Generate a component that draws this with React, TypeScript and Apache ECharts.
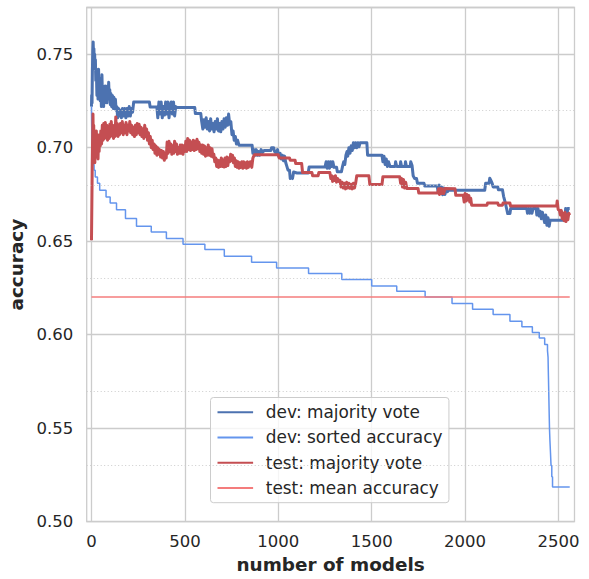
import React, { useEffect, useRef } from "react";
import * as echarts from "echarts";

// ---------- data ----------
const xTickValues = [0, 500, 1000, 1500, 2000, 2500];
const yMinorGrid = [0.525, 0.575, 0.625, 0.675, 0.725];
const nModels = 2560;
const meanAccuracy = 0.6202;

// dev: majority vote  [number of models, accuracy]
const devVote: [number, number][] = [
  [0, 0.722], [1, 0.728], [3, 0.724], [5, 0.742], [7, 0.752], [9, 0.7566], [11, 0.749], [13, 0.753],
  [15, 0.744], [17, 0.75], [19, 0.742], [21, 0.747], [23, 0.736], [26, 0.742], [29, 0.728], [32, 0.738],
  [35, 0.726], [38, 0.742], [41, 0.729], [44, 0.737], [47, 0.725], [50, 0.733], [53, 0.722], [56, 0.739],
  [59, 0.726], [62, 0.733], [65, 0.722], [68, 0.731], [71, 0.724], [74, 0.733], [77, 0.725], [80, 0.731],
  [83, 0.724], [86, 0.733], [89, 0.726], [92, 0.735], [95, 0.727], [98, 0.731], [101, 0.723], [104, 0.729],
  [108, 0.722], [112, 0.728], [116, 0.721], [120, 0.727], [124, 0.721], [128, 0.726], [132, 0.72], [136, 0.722],
  [140, 0.716], [145, 0.721], [150, 0.717], [155, 0.72], [160, 0.716], [166, 0.721], [172, 0.717], [178, 0.721],
  [184, 0.716], [190, 0.721], [196, 0.717], [202, 0.722], [208, 0.717], [214, 0.721], [220, 0.719], [226, 0.7245],
  [310, 0.7245], [314, 0.7218], [350, 0.7218], [355, 0.716], [361, 0.7245], [367, 0.718], [373, 0.7245], [379, 0.716],
  [385, 0.722], [391, 0.7175], [397, 0.7245], [403, 0.718], [409, 0.7245], [415, 0.716], [421, 0.722], [427, 0.7245],
  [433, 0.718], [439, 0.7245], [445, 0.717], [451, 0.722], [458, 0.7215], [553, 0.7215], [556, 0.7183], [585, 0.7183],
  [590, 0.714], [596, 0.71], [602, 0.715], [608, 0.711], [614, 0.716], [620, 0.71], [626, 0.714], [632, 0.709],
  [638, 0.7155], [644, 0.71], [650, 0.713], [656, 0.7085], [662, 0.714], [668, 0.71], [674, 0.7155], [680, 0.709],
  [686, 0.713], [692, 0.7085], [698, 0.714], [704, 0.71], [710, 0.7155], [716, 0.711], [722, 0.716], [728, 0.712],
  [734, 0.718], [740, 0.7125], [746, 0.714], [752, 0.707], [758, 0.709], [764, 0.704], [770, 0.706], [776, 0.702],
  [782, 0.704], [790, 0.7013], [860, 0.7013], [864, 0.697], [870, 0.699], [876, 0.696], [882, 0.699], [888, 0.696],
  [894, 0.698], [900, 0.696], [908, 0.699], [916, 0.6975], [924, 0.6985], [960, 0.6985], [964, 0.7], [975, 0.7],
  [980, 0.698], [990, 0.697], [996, 0.699], [1002, 0.6955], [1010, 0.697], [1016, 0.694], [1022, 0.696], [1028, 0.693],
  [1034, 0.6955], [1040, 0.692], [1046, 0.69], [1052, 0.688], [1060, 0.688], [1064, 0.6835], [1070, 0.6845], [1076, 0.6835],
  [1082, 0.687], [1100, 0.6865], [1160, 0.6865], [1165, 0.6897], [1250, 0.6897], [1256, 0.6925], [1262, 0.689], [1268, 0.6925],
  [1274, 0.689], [1280, 0.6925], [1286, 0.69], [1292, 0.6925], [1298, 0.6895], [1312, 0.6895], [1316, 0.6872], [1338, 0.6872],
  [1344, 0.69], [1350, 0.6925], [1356, 0.691], [1362, 0.696], [1368, 0.698], [1372, 0.6955], [1378, 0.7], [1384, 0.697],
  [1390, 0.701], [1396, 0.6985], [1402, 0.7027], [1408, 0.7], [1414, 0.7027], [1420, 0.7], [1426, 0.7027], [1432, 0.7005],
  [1438, 0.7027], [1474, 0.7027], [1478, 0.696], [1555, 0.696], [1560, 0.6925], [1566, 0.6955], [1572, 0.691], [1578, 0.694],
  [1584, 0.69], [1590, 0.6925], [1598, 0.69], [1625, 0.69], [1628, 0.6925], [1634, 0.69], [1652, 0.69], [1655, 0.6925],
  [1660, 0.69], [1678, 0.69], [1681, 0.6925], [1686, 0.69], [1706, 0.69], [1709, 0.6925], [1716, 0.6905], [1722, 0.685],
  [1730, 0.6835], [1740, 0.6835], [1745, 0.681], [1780, 0.681], [1784, 0.6795], [1850, 0.6795], [1856, 0.6765], [1862, 0.68],
  [1868, 0.6755], [1874, 0.679], [1880, 0.6748], [1886, 0.6785], [1892, 0.675], [1898, 0.678], [1906, 0.6765], [1912, 0.6773],
  [2105, 0.6773], [2110, 0.681], [2128, 0.681], [2132, 0.6837], [2138, 0.6825], [2145, 0.681], [2150, 0.679], [2175, 0.679],
  [2178, 0.6775], [2200, 0.6775], [2206, 0.674], [2214, 0.671], [2222, 0.6675], [2228, 0.6648], [2240, 0.6648], [2244, 0.6675],
  [2330, 0.6675], [2334, 0.665], [2340, 0.6675], [2346, 0.665], [2352, 0.6675], [2358, 0.665], [2364, 0.6675], [2380, 0.6675],
  [2384, 0.664], [2390, 0.6675], [2396, 0.6635], [2402, 0.666], [2408, 0.662], [2414, 0.6655], [2420, 0.6625], [2426, 0.66],
  [2432, 0.664], [2438, 0.6585], [2444, 0.6625], [2450, 0.658], [2455, 0.6612], [2535, 0.6612], [2538, 0.6675], [2545, 0.664],
  [2550, 0.6675], [2560, 0.6675],
];

// dev: sorted accuracy (value holds from x until next x)
const devSorted: [number, number][] = [
  [0, 0.722], [2, 0.705], [5, 0.696], [9, 0.691], [14, 0.688], [20, 0.6844], [32, 0.681], [44, 0.6773],
  [78, 0.6737], [100, 0.6705], [134, 0.6668], [182, 0.6622], [241, 0.658], [320, 0.655], [401, 0.6514], [490, 0.6484],
  [607, 0.6456], [711, 0.642], [857, 0.6388], [991, 0.6357], [1162, 0.6327], [1340, 0.6295], [1500, 0.6261], [1634, 0.6232],
  [1786, 0.6202], [1930, 0.6167], [2040, 0.6136], [2150, 0.6108], [2240, 0.6072], [2304, 0.6043], [2360, 0.6012], [2397, 0.5982],
  [2426, 0.5948], [2441, 0.5915], [2444, 0.588], [2446, 0.578], [2448, 0.568], [2450, 0.558], [2452, 0.549], [2454, 0.5436],
  [2457, 0.537], [2460, 0.53], [2464, 0.524], [2468, 0.5186], [2560, 0.5186],
];

// test: majority vote
const testVote: [number, number][] = [
  [0, 0.6505], [2, 0.67], [4, 0.69], [6, 0.705], [8, 0.718], [10, 0.7], [12, 0.712], [14, 0.696],
  [16, 0.708], [18, 0.692], [20, 0.706], [23, 0.695], [26, 0.709], [29, 0.697], [32, 0.707], [35, 0.694],
  [38, 0.705], [41, 0.698], [44, 0.707], [47, 0.701], [50, 0.709], [54, 0.702], [58, 0.712], [62, 0.704],
  [66, 0.713], [70, 0.705], [74, 0.7135], [78, 0.706], [82, 0.712], [86, 0.704], [90, 0.711], [94, 0.705],
  [98, 0.7125], [102, 0.706], [106, 0.714], [110, 0.707], [114, 0.712], [118, 0.705], [122, 0.711], [126, 0.706],
  [130, 0.7165], [134, 0.708], [138, 0.713], [142, 0.706], [146, 0.712], [150, 0.707], [155, 0.713], [160, 0.708],
  [165, 0.714], [170, 0.707], [175, 0.712], [180, 0.708], [185, 0.7135], [190, 0.707], [195, 0.712], [200, 0.709],
  [205, 0.714], [210, 0.708], [215, 0.712], [220, 0.707], [225, 0.711], [230, 0.706], [235, 0.712], [240, 0.707],
  [245, 0.713], [250, 0.708], [255, 0.7125], [260, 0.707], [265, 0.711], [270, 0.706], [275, 0.71], [280, 0.705],
  [285, 0.712], [290, 0.706], [295, 0.71], [300, 0.704], [305, 0.708], [310, 0.702], [315, 0.706], [320, 0.7],
  [325, 0.704], [330, 0.699], [335, 0.702], [340, 0.697], [345, 0.701], [350, 0.696], [355, 0.7], [360, 0.6965],
  [365, 0.699], [370, 0.695], [375, 0.6985], [380, 0.6945], [385, 0.698], [390, 0.6933], [395, 0.697], [400, 0.6945],
  [405, 0.703], [410, 0.697], [415, 0.7035], [420, 0.698], [425, 0.702], [430, 0.6965], [435, 0.701], [440, 0.697],
  [445, 0.7035], [450, 0.698], [455, 0.702], [460, 0.6965], [465, 0.7], [470, 0.697], [475, 0.7015], [480, 0.697],
  [485, 0.7015], [490, 0.6965], [495, 0.701], [500, 0.698], [505, 0.7035], [510, 0.698], [515, 0.705], [520, 0.699],
  [525, 0.704], [530, 0.6985], [535, 0.703], [540, 0.699], [545, 0.704], [550, 0.6985], [555, 0.7035], [560, 0.699],
  [565, 0.7045], [570, 0.6995], [575, 0.703], [580, 0.698], [585, 0.7015], [590, 0.697], [595, 0.7015], [600, 0.6965],
  [605, 0.701], [610, 0.6955], [615, 0.7], [620, 0.696], [625, 0.7015], [630, 0.696], [635, 0.7], [640, 0.6955],
  [645, 0.6995], [650, 0.695], [655, 0.6965], [660, 0.6925], [665, 0.6945], [670, 0.69], [675, 0.6935], [680, 0.6895],
  [685, 0.693], [690, 0.69], [695, 0.6945], [700, 0.69], [705, 0.6935], [710, 0.6897], [715, 0.6945], [720, 0.69],
  [725, 0.695], [730, 0.6905], [735, 0.6945], [740, 0.6925], [745, 0.6965], [750, 0.693], [755, 0.696], [760, 0.692],
  [765, 0.6945], [770, 0.69], [775, 0.693], [780, 0.6895], [785, 0.6925], [790, 0.689], [795, 0.692], [800, 0.6895],
  [805, 0.6925], [810, 0.689], [815, 0.6925], [820, 0.6895], [825, 0.692], [830, 0.689], [835, 0.6925], [840, 0.6895],
  [850, 0.6925], [858, 0.6895], [864, 0.6945], [872, 0.6963], [1000, 0.6963], [1005, 0.6945], [1060, 0.6945], [1064, 0.6933],
  [1090, 0.6933], [1093, 0.6916], [1125, 0.6916], [1130, 0.6867], [1180, 0.6867], [1184, 0.685], [1213, 0.685], [1217, 0.6867],
  [1276, 0.6867], [1281, 0.6835], [1286, 0.685], [1291, 0.682], [1296, 0.6845], [1301, 0.6825], [1306, 0.685], [1312, 0.6816],
  [1318, 0.6835], [1324, 0.682], [1330, 0.6826], [1336, 0.679], [1342, 0.6815], [1348, 0.6785], [1354, 0.681], [1360, 0.678],
  [1366, 0.6815], [1372, 0.6785], [1378, 0.681], [1384, 0.6783], [1390, 0.6805], [1396, 0.678], [1402, 0.681], [1408, 0.6785],
  [1414, 0.681], [1420, 0.685], [1485, 0.685], [1490, 0.6803], [1555, 0.6803], [1560, 0.6845], [1650, 0.6845], [1655, 0.681],
  [1660, 0.6835], [1665, 0.679], [1670, 0.683], [1676, 0.6785], [1682, 0.6815], [1688, 0.6782], [1748, 0.6782], [1752, 0.6758],
  [1853, 0.6758], [1858, 0.678], [1863, 0.675], [1868, 0.6782], [1874, 0.6755], [1880, 0.678], [1886, 0.6755], [1892, 0.6782],
  [1946, 0.678], [1950, 0.6746], [1990, 0.6746], [1995, 0.671], [2000, 0.6755], [2005, 0.6715], [2010, 0.675], [2015, 0.672],
  [2020, 0.6745], [2025, 0.671], [2030, 0.673], [2035, 0.6693], [2117, 0.6693], [2120, 0.6704], [2175, 0.6704], [2178, 0.6693],
  [2200, 0.6693], [2203, 0.6704], [2240, 0.6704], [2243, 0.6688], [2490, 0.6688], [2493, 0.6715], [2498, 0.667], [2505, 0.6665],
  [2510, 0.664], [2515, 0.6665], [2520, 0.662], [2525, 0.665], [2530, 0.661], [2535, 0.6655], [2540, 0.6605], [2545, 0.664],
  [2550, 0.6615], [2555, 0.665], [2560, 0.664],
];

const testMean: [number, number][] = [
  [0, meanAccuracy],
  [nModels, meanAccuracy],
];

const seriesNames = [
  "dev: majority vote",
  "dev: sorted accuracy",
  "test: majority vote",
  "test: mean accuracy",
];

// ---------- component ----------
const FONT = "DejaVu Sans";
const TEXT = "#262626";
const GRID = "#cccccc";

export default function App() {
  const ref = useRef<HTMLDivElement>(null);

  useEffect(() => {
    if (!ref.current) return;
    const chart = echarts.init(ref.current, undefined, { renderer: "svg" });

    const option: any = {
      animation: false,
      backgroundColor: "#ffffff",
      grid: {
        left: 86.7,
        top: 7.5,
        right: 14.5,
        bottom: 57.3,
        show: true,
        borderColor: GRID,
        borderWidth: 1.3,
        containLabel: false,
        outerBoundsMode: "none",
      },
      xAxis: {
        type: "value",
        min: -25.6,
        max: 2585.6,
        name: "number of models",
        nameLocation: "middle",
        nameGap: 33.5,
        nameTextStyle: { fontFamily: FONT, fontSize: 18.4, fontWeight: "bold", color: TEXT },
        axisLine: { show: false },
        axisTick: { show: false, customValues: xTickValues },
        axisLabel: {
          customValues: xTickValues,
          fontFamily: FONT,
          fontSize: 16.5,
          color: TEXT,
          margin: 11,
          formatter: (v: number) => String(v),
        },
        splitLine: { show: true, lineStyle: { color: GRID, width: 1.3 } },
      },
      yAxis: {
        type: "value",
        min: 0.5,
        max: 0.775,
        interval: 0.05,
        name: "accuracy",
        nameLocation: "middle",
        nameGap: 55,
        nameTextStyle: { fontFamily: FONT, fontSize: 18.4, fontWeight: "bold", color: TEXT },
        axisLine: { show: false },
        axisTick: { show: false },
        axisLabel: {
          fontFamily: FONT,
          fontSize: 16.5,
          color: TEXT,
          margin: 13.4,
          showMaxLabel: false,
          formatter: (v: number) => v.toFixed(2),
        },
        splitLine: { show: true, lineStyle: { color: GRID, width: 1.3 } },
      },
      legend: {
        orient: "vertical",
        left: 210.5,
        top: 397.5,
        padding: [4, 6.5, 4, 6],
        itemWidth: 35.6,
        itemHeight: 10,
        itemGap: 4,
        backgroundColor: "rgba(255,255,255,0.8)",
        borderColor: GRID,
        borderWidth: 1,
        borderRadius: 3,
        itemStyle: { opacity: 0 },
        textStyle: {
          fontFamily: FONT,
          fontSize: 16.9,
          color: TEXT,
          lineHeight: 21.3,
          padding: [0, 0, 0, 7.7],
        },
        data: seriesNames,
      },
      series: [
        {
          name: "minor-grid",
          type: "line",
          data: [],
          silent: true,
          symbol: "none",
          markLine: {
            silent: true,
            symbol: ["none", "none"],
            label: { show: false },
            lineStyle: { color: GRID, width: 1, type: [1, 2.5] },
            data: yMinorGrid.map((v) => ({ yAxis: v })),
          },
        },
        {
          name: seriesNames[0],
          type: "line",
          data: devVote,
          symbol: "none",
          showSymbol: false,
          color: "#4c72b0",
          lineStyle: { width: 3, color: "#4c72b0", join: "round" },
        },
        {
          name: seriesNames[1],
          type: "line",
          data: devSorted,
          step: "end",
          symbol: "none",
          showSymbol: false,
          color: "#6495ed",
          lineStyle: { width: 1.5, color: "#6495ed" },
        },
        {
          name: seriesNames[2],
          type: "line",
          data: testVote,
          symbol: "none",
          showSymbol: false,
          color: "#c44e52",
          lineStyle: { width: 3, color: "#c44e52", join: "round" },
        },
        {
          name: seriesNames[3],
          type: "line",
          data: testMean,
          symbol: "none",
          showSymbol: false,
          color: "#f47c7c",
          lineStyle: { width: 1.5, color: "#f47c7c" },
        },
      ],
    };

    chart.setOption(option);
    return () => chart.dispose();
  }, []);

  return <div ref={ref} style={{ width: 589, height: 579, position: "absolute", left: 0, top: 0 }} />;
}
